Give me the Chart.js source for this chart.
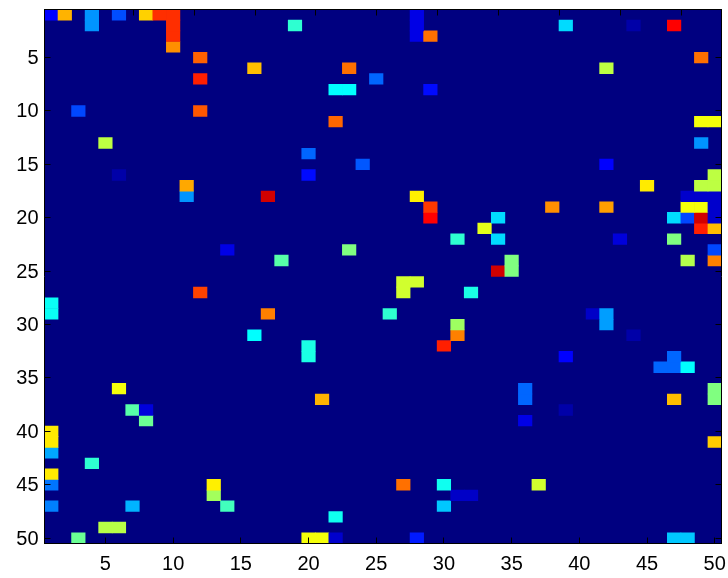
<!DOCTYPE html>
<html>
<head>
<meta charset="utf-8">
<style>
  html, body { margin: 0; padding: 0; background: #ffffff; }
  canvas { display: block; }
</style>
</head>
<body>
<canvas id="matrixChart" width="728" height="578"></canvas>
<script src="https://cdn.jsdelivr.net/npm/chart.js@4/dist/chart.umd.min.js"></script>
<script>
const tickValues = [5, 10, 15, 20, 25, 30, 35, 40, 45, 50];
const columnLabels = Array.from({ length: 50 }, (_, i) => String(i + 1));

// non-zero cells only (value is 0..1 on the jet scale)
const cellCols = [
  1, 2, 4, 4, 6, 8, 9, 10, 10, 10, 10, 12, 12, 3, 12, 5, 6, 11, 11,
  19, 28, 28, 28, 29, 16, 23, 25, 22, 23, 29, 22, 20, 24, 20,
  39, 44, 47, 49, 42, 49, 50, 49, 42, 45, 50, 49, 50,
  14, 12, 1, 1, 17, 28, 29, 29, 33, 31, 23, 18, 27, 27, 28, 32, 17, 26, 31, 31, 30, 16, 20, 20,
  34, 34, 38, 42, 43, 47, 47, 48, 48, 48, 49, 49, 49, 49, 50, 50, 50, 50, 50, 50, 48, 35, 35, 34,
  41, 42, 42, 44, 39, 47, 46, 47, 48,
  6, 7, 8, 8, 1, 1, 1, 4, 1, 1, 13, 13, 14, 1, 7, 5, 6, 3,
  21, 27, 30, 31, 32, 30, 22, 20, 21, 22, 28,
  36, 36, 47, 50, 50, 39, 36, 50, 37, 47, 48
];
const cellRows = [
  1, 1, 1, 2, 1, 1, 1, 1, 2, 3, 4, 5, 7, 10, 10, 13, 16, 17, 18,
  2, 1, 2, 3, 3, 6, 6, 7, 8, 8, 8, 11, 14, 15, 16,
  2, 2, 2, 5, 6, 11, 11, 13, 15, 17, 16, 17, 17,
  23, 27, 28, 29, 18, 18, 19, 20, 21, 22, 23, 24, 26, 27, 26, 27, 29, 29, 30, 31, 32, 31, 32, 33,
  20, 22, 19, 19, 22, 22, 20, 18, 19, 20, 18, 19, 20, 21, 18, 19, 20, 21, 23, 24, 24, 24, 25, 25,
  29, 29, 30, 31, 33, 33, 34, 34, 34,
  36, 38, 38, 39, 40, 41, 42, 43, 44, 45, 45, 46, 47, 47, 47, 49, 49, 50,
  37, 45, 45, 46, 46, 47, 48, 50, 50, 50, 50,
  36, 37, 37, 36, 37, 38, 39, 41, 45, 50, 50
];
const cellValues = [
  0.125, 0.7, 0.27, 0.27, 0.2, 0.67, 0.83, 0.83, 0.83, 0.83, 0.735, 0.78, 0.845, 0.195, 0.79, 0.56, 0.04, 0.71, 0.27,
  0.42, 0.1, 0.1, 0.1, 0.765, 0.6875, 0.765, 0.225, 0.375, 0.375, 0.135, 0.775, 0.225, 0.21, 0.135,
  0.34, 0.04, 0.875, 0.765, 0.56, 0.615, 0.615, 0.27, 0.125, 0.645, 0.56, 0.56, 0.56,
  0.1, 0.81, 0.385, 0.385, 0.92, 0.64, 0.82, 0.875, 0.6, 0.42, 0.5, 0.46, 0.58, 0.58, 0.58, 0.4, 0.75, 0.42, 0.53, 0.75, 0.845, 0.375, 0.4, 0.4,
  0.34, 0.34, 0.735, 0.72, 0.09, 0.5, 0.34, 0.075, 0.615, 0.195, 0.075, 0.615, 0.92, 0.845, 0.075, 0.075, 0.075, 0.69, 0.195, 0.75, 0.55, 0.5, 0.5, 0.92,
  0.07, 0.28, 0.28, 0.04, 0.125, 0.225, 0.225, 0.225, 0.375,
  0.615, 0.46, 0.09, 0.48, 0.645, 0.645, 0.29, 0.42, 0.645, 0.24, 0.64, 0.535, 0.44, 0.25, 0.3, 0.555, 0.555, 0.48,
  0.7, 0.765, 0.39, 0.07, 0.07, 0.32, 0.39, 0.615, 0.615, 0.075, 0.15,
  0.225, 0.225, 0.69, 0.5, 0.5, 0.04, 0.1, 0.675, 0.58, 0.32, 0.32
];

function jet(t) {
  const ch = (c) => Math.round(255 * Math.min(1, Math.max(0, 1.5 - Math.abs(4 * t - c))));
  return `rgb(${ch(3)}, ${ch(2)}, ${ch(1)})`;
}

// one floating-bar dataset per matrix row
const datasets = [];
for (let row = 1; row <= 50; row++) {
  const data = columnLabels.map(() => null);
  const colors = columnLabels.map(() => 'transparent');
  cellRows.forEach((r, i) => {
    if (r === row) {
      data[cellCols[i] - 1] = [row - 0.5, row + 0.5];
      colors[cellCols[i] - 1] = jet(cellValues[i]);
    }
  });
  if (data.some((d) => d)) {
    datasets.push({
      data,
      backgroundColor: colors,
      borderWidth: 0,
      barPercentage: 1,
      categoryPercentage: 1,
      grouped: false
    });
  }
}

const imageBackground = {
  id: 'imageBackground',
  beforeDatasetsDraw(chart) {
    const { ctx, chartArea } = chart;
    ctx.save();
    ctx.fillStyle = jet(0);
    ctx.fillRect(chartArea.left, chartArea.top, chartArea.width, chartArea.height);
    ctx.restore();
  }
};

const frameGrid = { drawOnChartArea: false, drawTicks: true, tickLength: -6, tickColor: '#000000', offset: false, z: 1 };
const frameBorder = { display: true, color: '#000000', width: 1, z: 1 };

function keepTicks(axis) {
  axis.ticks = tickValues.map((value) => ({ value }));
}

// labels must not push the plot area in from the canvas edges
function clearPadding(axis) {
  axis.paddingLeft = 0;
  axis.paddingRight = 0;
  axis.paddingTop = 0;
  axis.paddingBottom = 0;
}

new Chart(document.getElementById('matrixChart'), {
  type: 'bar',
  data: { labels: columnLabels, datasets },
  plugins: [imageBackground],
  options: {
    responsive: false,
    animation: false,
    layout: { padding: 0 },
    plugins: { legend: { display: false }, tooltip: { enabled: false } },
    scales: {
      x: {
        type: 'category',
        offset: true,
        grid: frameGrid,
        border: frameBorder,
        afterBuildTicks(axis) {
          axis.ticks = tickValues.map((value) => ({ value: value - 1 }));
        },
        afterFit(axis) { axis.height = 34.5; clearPadding(axis); },
        ticks: {
          autoSkip: false,
          maxRotation: 0,
          padding: 15,
          color: '#000000',
          font: { family: '"Liberation Sans"', size: 20 }
        }
      },
      xTop: {
        type: 'linear',
        position: 'top',
        min: 0.5,
        max: 50.5,
        grid: frameGrid,
        border: frameBorder,
        afterBuildTicks: keepTicks,
        afterFit(axis) { axis.height = 9.5; clearPadding(axis); },
        ticks: { display: false }
      },
      y: {
        type: 'linear',
        reverse: true,
        min: 0.5,
        max: 50.5,
        grid: frameGrid,
        border: frameBorder,
        afterBuildTicks: keepTicks,
        afterFit(axis) { axis.width = 44.5; clearPadding(axis); },
        ticks: {
          autoSkip: false,
          padding: 12,
          labelOffset: 1,
          color: '#000000',
          font: { family: '"Liberation Sans"', size: 20 }
        }
      },
      yRight: {
        type: 'linear',
        position: 'right',
        reverse: true,
        min: 0.5,
        max: 50.5,
        grid: frameGrid,
        border: frameBorder,
        afterBuildTicks: keepTicks,
        afterFit(axis) { axis.width = 6.5; clearPadding(axis); },
        ticks: { display: false }
      }
    }
  }
});
</script>
</body>
</html>
